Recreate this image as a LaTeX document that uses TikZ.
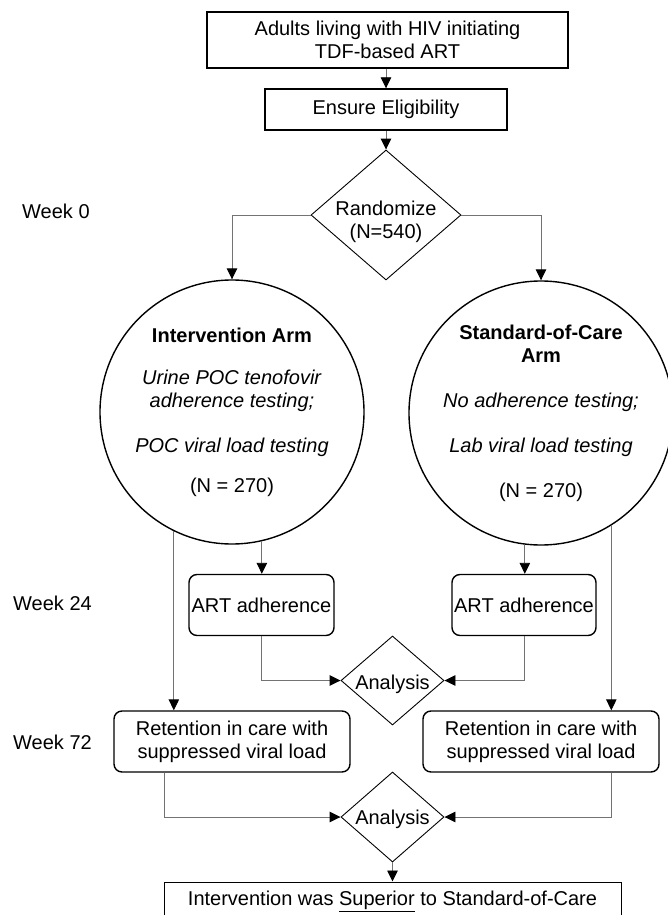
\documentclass[tikz,border=0pt]{standalone}
\usepackage{fontspec}
\setmainfont{Liberation Sans}
\usetikzlibrary{shapes.geometric,arrows.meta}
\begin{document}
\begin{tikzpicture}[x=1pt,y=-1pt,
  every node/.style={font=\fontsize{20}{23}\selectfont, inner sep=0pt, align=center},
  sqbox/.style={draw=black, line width=1.4pt, rectangle},
  rbox/.style={draw=black, line width=1.4pt, rectangle, rounded corners=8pt},
  armcircle/.style={draw=black, line width=1.4pt, circle, minimum size=264pt},
  dmd/.style={draw=black, line width=0.9pt, diamond},
  conn/.style={draw=black!55, line width=0.9pt},
  arr/.style={conn, -{Triangle[length=11pt,width=10.5pt,fill=black,color=black]}},
  txt/.style={}]
\useasboundingbox (0,0) rectangle (668,915);
% boxes
\node[sqbox, minimum width=361pt, minimum height=56pt] (top) at (387.5,40) {Adults living with HIV initiating\\TDF-based ART};
\node[sqbox, minimum width=242pt, minimum height=41pt] (elig) at (386,109.5) {Ensure Eligibility};
\node[dmd, minimum width=150pt, minimum height=130pt] (rand) at (386,215) {};
\node[txt] (randt) at (386,222) {Randomize\\(N=540)};
% week labels
\node[txt, anchor=west] (w0) at (22,211) {Week 0};
\node[txt, anchor=west] (w24) at (13,603) {Week 24};
\node[txt, anchor=west] (w72) at (13,742) {Week 72};
% circles
\node[armcircle] (lc) at (232,412) {};
\node[txt] (lct) at (232,412) {\textbf{Intervention Arm}\\[19pt]
  \textit{Urine POC tenofovir}\\\textit{adherence testing;}\\[22pt]
  \textit{POC viral load testing}\\[17pt](N = 270)};
\node[armcircle] (rc) at (541,413) {};
\node[txt] (rct) at (541,413) {\textbf{Standard-of-Care}\\\textbf{Arm}\\[22pt]
  \textit{No adherence testing;}\\[22pt]
  \textit{Lab viral load testing}\\[22pt](N = 270)};
% week 24
\node[rbox, minimum width=145pt, minimum height=61pt] (lart) at (261.5,605) {ART adherence};
\node[rbox, minimum width=144pt, minimum height=61pt] (rart) at (524,605) {ART adherence};
\node[dmd, minimum width=103pt, minimum height=89pt] (an1) at (392.5,680.5) {};
\node[txt] (an1t) at (392.5,684) {Analysis};
% week 72
\node[rbox, minimum width=236pt, minimum height=61pt] (lret) at (232,741.5) {Retention in care with\\suppressed viral load};
\node[rbox, minimum width=236pt, minimum height=61pt] (rret) at (541,741.5) {Retention in care with\\suppressed viral load};
\node[dmd, minimum width=103pt, minimum height=90pt] (an2) at (392.5,817) {};
\node[txt] (an2t) at (392.5,819) {Analysis};
\node[sqbox, line width=1pt, minimum width=457pt, minimum height=38pt] (res) at (392.5,901) {Intervention was \underline{Superior} to Standard-of-Care};
% connectors
\draw[arr] (top.south -| elig.north) -- (elig.north);
\draw[arr] (elig.south) -- (rand.north);
\draw[arr] (rand.west) -| (lc.north);
\draw[arr] (rand.east) -| (rc.north);
\draw[arr] (lc.-116) -- (lc.-116 |- lret.north);
\draw[arr] (lc.-77) -- (lc.-77 |- lart.north);
\draw[arr] (rc.-97.4) -- (rc.-97.4 |- rart.north);
\draw[arr] (rc.-58.5) -- (rc.-58.5 |- rret.north);
\draw[arr] (lart.south) |- (an1.west);
\draw[arr] (rart.south) |- (an1.east);
\draw[arr] ([xshift=-68pt]lret.south) |- (an2.west);
\draw[arr] ([xshift=70pt]rret.south) |- (an2.east);
\draw[arr] (an2.south) -- (res.north);
\end{tikzpicture}
\end{document}
